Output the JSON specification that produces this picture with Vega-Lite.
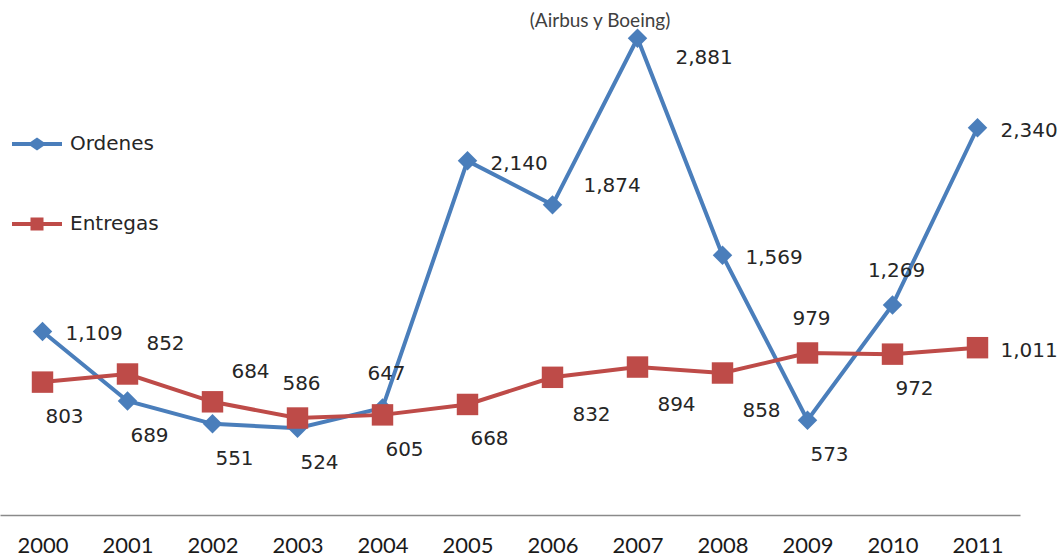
{
  "$schema": "https://vega.github.io/schema/vega-lite/v6.json",
  "width": 1020,
  "height": 515,
  "autosize": "none",
  "padding": {"left": 0, "top": 0, "right": 42, "bottom": 43},
  "background": "white",
  "title": {"text": "(Airbus y Boeing)", "orient": "top", "anchor": "middle", "offset": -31, "dx": 90, "font": "Lato", "fontSize": 19, "fontWeight": "normal", "color": "#404040"},
  "config": {"view": {"stroke": null}},
  "data": {"values": [
    {"year": "2000", "serie": "Ordenes", "valor": 1109},
    {"year": "2001", "serie": "Ordenes", "valor": 689},
    {"year": "2002", "serie": "Ordenes", "valor": 551},
    {"year": "2003", "serie": "Ordenes", "valor": 524},
    {"year": "2004", "serie": "Ordenes", "valor": 647},
    {"year": "2005", "serie": "Ordenes", "valor": 2140},
    {"year": "2006", "serie": "Ordenes", "valor": 1874},
    {"year": "2007", "serie": "Ordenes", "valor": 2881},
    {"year": "2008", "serie": "Ordenes", "valor": 1569},
    {"year": "2009", "serie": "Ordenes", "valor": 573},
    {"year": "2010", "serie": "Ordenes", "valor": 1269},
    {"year": "2011", "serie": "Ordenes", "valor": 2340},
    {"year": "2000", "serie": "Entregas", "valor": 803},
    {"year": "2001", "serie": "Entregas", "valor": 852},
    {"year": "2002", "serie": "Entregas", "valor": 684},
    {"year": "2003", "serie": "Entregas", "valor": 586},
    {"year": "2004", "serie": "Entregas", "valor": 605},
    {"year": "2005", "serie": "Entregas", "valor": 668},
    {"year": "2006", "serie": "Entregas", "valor": 832},
    {"year": "2007", "serie": "Entregas", "valor": 894},
    {"year": "2008", "serie": "Entregas", "valor": 858},
    {"year": "2009", "serie": "Entregas", "valor": 979},
    {"year": "2010", "serie": "Entregas", "valor": 972},
    {"year": "2011", "serie": "Entregas", "valor": 1011}
  ]},
  "encoding": {
    "x": {"field": "year", "type": "ordinal", "scale": {"type": "point", "padding": 0.5},
      "axis": {"title": null, "labelAngle": 0, "ticks": false, "grid": false, "domainColor": "#8a8a8a", "domainWidth": 1.5, "labelFont": "Lato", "labelFontSize": 22, "labelColor": "#1a1a1a", "labelPadding": 20}},
    "y": {"field": "valor", "type": "quantitative", "scale": {"domain": [0, 3112], "nice": false, "zero": true}, "axis": null}
  },
  "layer": [
    {
      "mark": {"type": "line", "strokeWidth": 4},
      "encoding": {
        "color": {"field": "serie", "type": "nominal", "scale": {"domain": ["Ordenes", "Entregas"], "range": ["#4A7EBB", "#BE4B48"]},
          "legend": {"title": null, "orient": "none", "legendX": 12, "legendY": 119, "padding": 0, "symbolSize": 2500, "rowPadding": 45, "labelOffset": 8, "labelFont": "DejaVu Sans", "labelFontSize": 20, "labelColor": "#262626",
            "symbolType": "M-1,-0.08H-0.26L0,-0.26L0.26,-0.08H1V0.08H0.26L0,0.26L-0.26,0.08H-1Z",
            "encode": {"symbols": {"update": {
              "shape": {"signal": "datum.value === 'Ordenes' ? 'M-1,-0.08H-0.26L0,-0.26L0.26,-0.08H1V0.08H0.26L0,0.26L-0.26,0.08H-1Z' : 'M-1,-0.08H-0.26V-0.26H0.26V-0.08H1V0.08H0.26V0.26H-0.26V0.08H-1Z'"},
              "size": {"value": 2500},
              "fill": {"signal": "datum.value === 'Ordenes' ? '#4A7EBB' : '#BE4B48'"},
              "fillOpacity": {"value": 1},
              "strokeWidth": {"value": 0},
              "opacity": {"value": 1}
            }}}}
        }
      }
    },
    {
      "mark": {"type": "point", "filled": true, "opacity": 1},
      "encoding": {
        "color": {"condition": {"test": "datum.serie === 'Ordenes'", "value": "#4A7EBB"}, "value": "#BE4B48"},
        "shape": {"condition": {"test": "datum.serie === 'Ordenes'", "value": "diamond"}, "value": "square"},
        "size": {"condition": {"test": "datum.serie === 'Ordenes'", "value": 380}, "value": 460}
      }
    },
    {
      "transform": [{"filter": "(datum.serie === 'Ordenes' && indexof(['2000','2005','2008','2011'], datum.year) >= 0) || (datum.serie === 'Entregas' && datum.year === '2011')"}],
      "mark": {"type": "text", "align": "left", "baseline": "middle", "dx": 23, "dy": 3, "font": "DejaVu Sans", "fontSize": 20, "color": "#262626"},
      "encoding": {"text": {"field": "valor", "type": "quantitative", "format": ",d"}}
    },
    {
      "transform": [{"filter": "datum.serie === 'Ordenes' && datum.year === '2006'"}],
      "mark": {"type": "text", "align": "left", "baseline": "middle", "dx": 31, "dy": -19, "font": "DejaVu Sans", "fontSize": 20, "color": "#262626"},
      "encoding": {"text": {"field": "valor", "type": "quantitative", "format": ",d"}}
    },
    {
      "transform": [{"filter": "datum.serie === 'Ordenes' && datum.year === '2007'"}],
      "mark": {"type": "text", "align": "left", "baseline": "middle", "dx": 38, "dy": 20, "font": "DejaVu Sans", "fontSize": 20, "color": "#262626"},
      "encoding": {"text": {"field": "valor", "type": "quantitative", "format": ",d"}}
    },
    {
      "transform": [{"filter": "(datum.serie === 'Ordenes' && indexof(['2001','2002','2003','2009'], datum.year) >= 0) || (datum.serie === 'Entregas' && indexof(['2000','2004','2005','2010'], datum.year) >= 0)"}],
      "mark": {"type": "text", "align": "center", "baseline": "middle", "dx": 22, "dy": 35, "font": "DejaVu Sans", "fontSize": 20, "color": "#262626"},
      "encoding": {"text": {"field": "valor", "type": "quantitative", "format": ",d"}}
    },
    {
      "transform": [{"filter": "datum.serie === 'Entregas' && indexof(['2006','2007','2008'], datum.year) >= 0"}],
      "mark": {"type": "text", "align": "center", "baseline": "middle", "dx": 39, "dy": 38, "font": "DejaVu Sans", "fontSize": 20, "color": "#262626"},
      "encoding": {"text": {"field": "valor", "type": "quantitative", "format": ",d"}}
    },
    {
      "transform": [{"filter": "(datum.serie === 'Ordenes' && indexof(['2004','2010'], datum.year) >= 0) || (datum.serie === 'Entregas' && indexof(['2003','2009'], datum.year) >= 0)"}],
      "mark": {"type": "text", "align": "center", "baseline": "middle", "dx": 4, "dy": -34, "font": "DejaVu Sans", "fontSize": 20, "color": "#262626"},
      "encoding": {"text": {"field": "valor", "type": "quantitative", "format": ",d"}}
    },
    {
      "transform": [{"filter": "datum.serie === 'Entregas' && indexof(['2001','2002'], datum.year) >= 0"}],
      "mark": {"type": "text", "align": "center", "baseline": "middle", "dx": 38, "dy": -30, "font": "DejaVu Sans", "fontSize": 20, "color": "#262626"},
      "encoding": {"text": {"field": "valor", "type": "quantitative", "format": ",d"}}
    }
  ]
}
